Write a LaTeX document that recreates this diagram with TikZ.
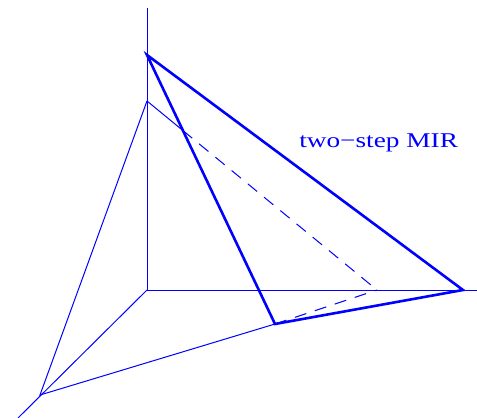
\documentclass[tikz,border=0pt]{standalone}
\usepackage{fontspec}
\setmainfont{Liberation Serif}
\begin{document}
\begin{tikzpicture}[x=1pt,y=-1pt,
  thinln/.style={draw=blue,line width=1pt},
  thickln/.style={draw=blue,line width=2.6pt,line join=miter},
  dashln/.style={draw=blue,line width=1pt,dash pattern=on 12pt off 9pt}]
\useasboundingbox (0,0) rectangle (477,418);
\coordinate (O) at (147,290);
\coordinate (ztop) at (147,8);
\coordinate (xend) at (477,290);
\coordinate (yend) at (18,418);
\coordinate (A) at (147,55);
\coordinate (B) at (147,101);
\coordinate (C) at (463,290);
\coordinate (D) at (275,324);
\coordinate (E) at (40,395);
\coordinate (F) at (377,290);
\coordinate (G) at (intersection of A--D and B--F);
% axes
\draw[thinln] (O) -- (ztop);
\draw[thinln] (O) -- (xend);
\draw[thinln] (O) -- (yend);
% thin plane
\draw[thinln] (B) -- (E) -- (D);
\draw[thinln] (B) -- (G);
\draw[dashln] (G) -- (F);
\draw[dashln] (D) -- (F);
% thick plane
\draw[thickln] (A) -- (C) -- (D) -- cycle;
\node[anchor=base west,inner sep=0pt,text=blue,font=\fontsize{21}{21}\selectfont,xscale=1.3] (lab) at (299,147) {two−step MIR};
\end{tikzpicture}
\end{document}
